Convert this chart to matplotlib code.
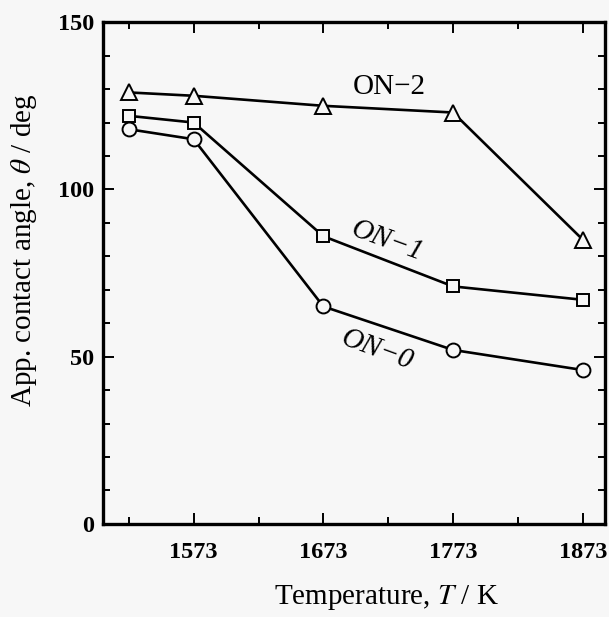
import numpy as np
from matplotlib import pyplot as plt
from matplotlib.ticker import MultipleLocator

plt.rcParams['font.family'] = ['Liberation Serif', 'DejaVu Serif']
plt.rcParams['mathtext.fontset'] = 'stix'

# temperatures (K) and apparent contact angles (deg)
temps = [1523, 1573, 1673, 1773, 1873]
on0 = [118, 115, 65, 52, 46]
on1 = [122, 120, 86, 71, 67]
on2 = [129, 128, 125, 123, 85]

fig = plt.figure(figsize=(6.09, 6.17), dpi=100)
fig.patch.set_facecolor('#f7f7f7')
ax = fig.add_axes([0.169, 0.151, 0.824, 0.813])
ax.set_facecolor('#f7f7f7')

style = dict(color='black', lw=1.9, mfc='#f7f7f7', mec='black', mew=1.4, ms=11)
ax.plot(temps, on2, marker='^', **style)
ax.plot(temps, on1, marker='s', **dict(style, ms=9))
ax.plot(temps, on0, marker='o', **dict(style, ms=10))

ax.text(1724, 130.5, 'ON\u22122', fontsize=21, ha='center', va='center')
ax.text(1722, 84.5, 'ON\u22121', fontsize=21, style='italic', ha='center', va='center', rotation=-20)
ax.text(1714, 52, 'ON\u22120', fontsize=21, style='italic', ha='center', va='center', rotation=-20)

ax.set_xlim(1503, 1890)
ax.set_ylim(0, 150)
ax.set_xticks([1573, 1673, 1773, 1873])
ax.xaxis.set_minor_locator(MultipleLocator(100, offset=23))
ax.yaxis.set_major_locator(MultipleLocator(50))
ax.yaxis.set_minor_locator(MultipleLocator(10))

ax.tick_params(which='both', direction='in', top=True, right=True, width=1.4)
ax.tick_params(which='major', length=8, labelsize=17.5)
ax.tick_params(axis='x', which='major', pad=13)
ax.tick_params(axis='y', which='major', pad=6)
ax.tick_params(which='minor', length=5)
for lab in ax.get_xticklabels() + ax.get_yticklabels():
    lab.set_fontweight('bold')
for sp in ax.spines.values():
    sp.set_linewidth(2.4)

ax.set_xlabel('Temperature, $T$ / K', fontsize=21, va='center')
ax.set_ylabel('App. contact angle, $\\theta$ / deg', fontsize=21, va='center')
ax.xaxis.set_label_coords(0.564, -0.147)
ax.yaxis.set_label_coords(-0.157, 0.546)

fig.savefig('out.png', dpi=100, facecolor=fig.get_facecolor())
